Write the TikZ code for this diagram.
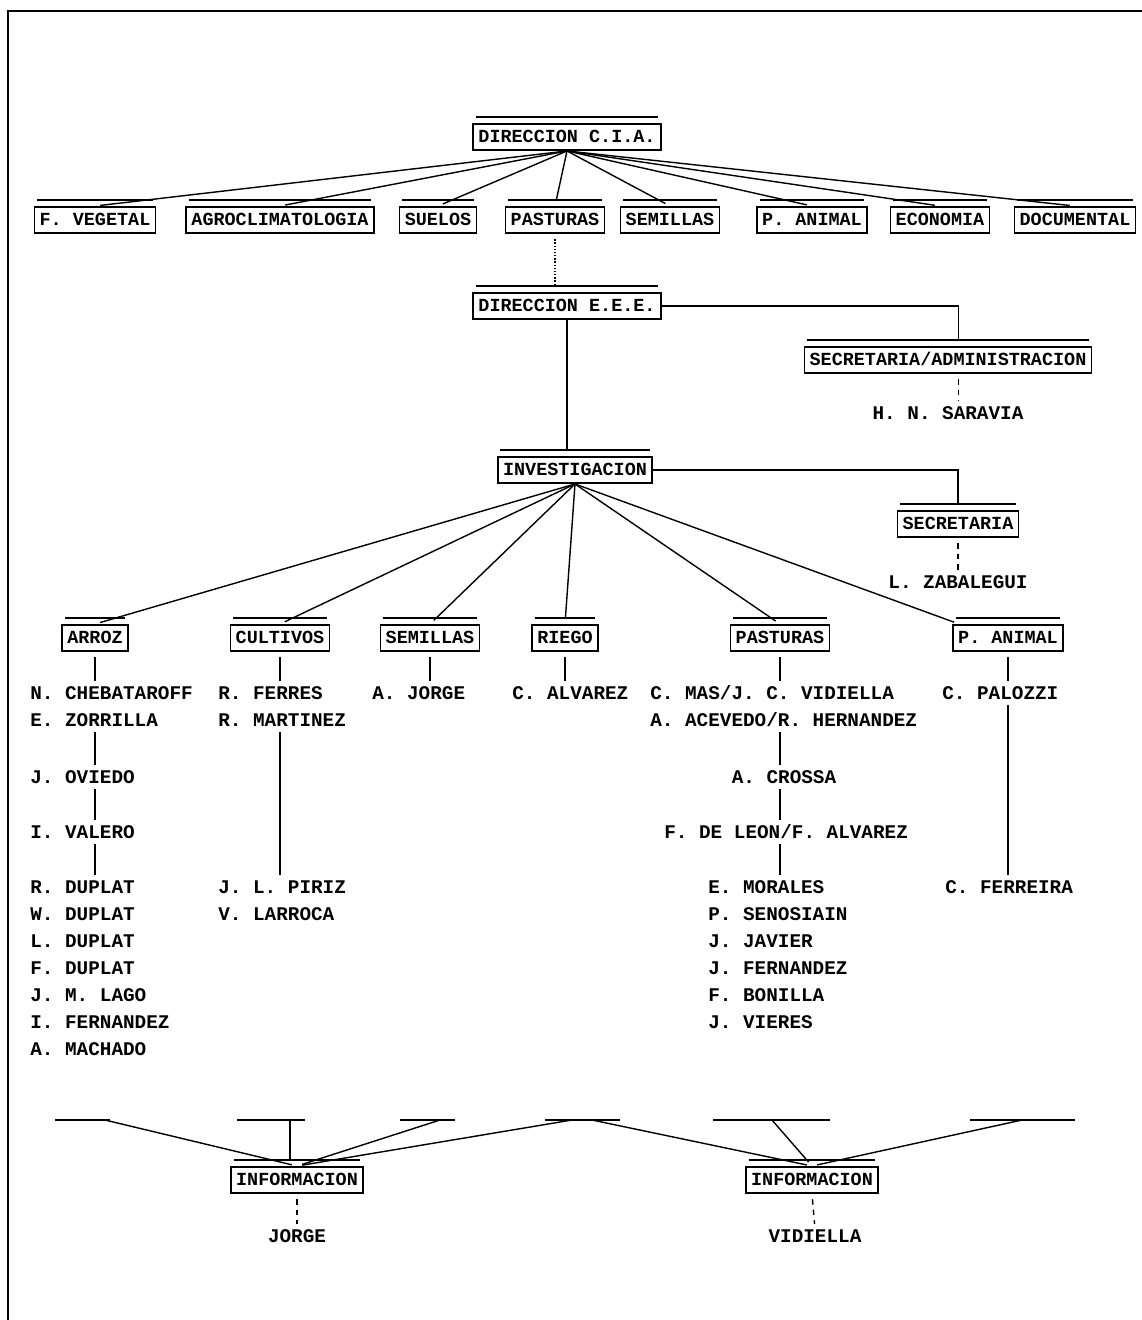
\documentclass[tikz,border=0pt]{standalone}
\usepackage{fontspec}
\setmonofont{Liberation Mono}

\begin{document}
\begin{tikzpicture}[x=0.02cm,y=-0.02cm,
    caja/.style={draw,line width=0.9pt,inner xsep=3pt,inner ysep=2.5pt,text height=8pt,text depth=2pt,
      font=\fontsize{10.5}{12}\selectfont\ttfamily\bfseries,
      append after command={([xshift=2pt,yshift=3.5pt]\tikzlastnode.north west) edge[line width=1.4pt] ([xshift=-2pt,yshift=3.5pt]\tikzlastnode.north east)}},
    nombre/.style={anchor=west,inner sep=0pt,text height=7.5pt,text depth=0pt,
      font=\fontsize{11}{13}\selectfont\ttfamily\bfseries},
    enlace/.style={line width=0.8pt},
    rama/.style={line width=0.8pt,shorten >=3pt},
    corto/.style={line width=0.8pt,shorten <=3pt,shorten >=3pt}]
    \useasboundingbox (0,0) rectangle (1142,1320);
    \draw[line width=1.2pt] (8,1320) -- (8,11) -- (1142,11);

    % direccion del centro
    \node[caja] (cia) at (567,137) {DIRECCION C.I.A.};
    \foreach \n/\x/\t in {fveg/95/F. VEGETAL,agro/280/AGROCLIMATOLOGIA,suel/438/SUELOS,past/555/PASTURAS,
        semi/670/SEMILLAS,pani/812/P. ANIMAL,econ/940/ECONOMIA,docu/1075/DOCUMENTAL}
      {\node[caja] (\n) at (\x,220) {\t};
       \draw[rama] (cia.south) -- (\n.north);}

    \node[caja] (dee) at (567,306) {DIRECCION E.E.E.};
    \draw[enlace,densely dotted,shorten <=3pt,shorten >=4pt] (past.south) -- (past.south |- dee.north);
    \node[caja] (sad) at (948,360) {SECRETARIA/ADMINISTRACION};
    \draw[rama] (dee.east) -| ([xshift=6pt]sad.north);
    \node[nombre,anchor=center] (sar) at (948,413) {H. N. SARAVIA};
    \draw[corto,dashed] ([xshift=6pt]sad.south) -- ([xshift=6pt]sar.north);

    \node[caja] (inv) at (575,470) {INVESTIGACION};
    \draw[rama] (dee.south) -- (dee.south |- inv.north);
    \node[caja] (sec) at (958,524) {SECRETARIA};
    \draw[rama] (inv.east) -| (sec.north);
    \node[nombre,anchor=center] (zab) at (958,582) {L. ZABALEGUI};
    \draw[corto,dashed] (sec.south) -- (zab.north);

    % secciones
    \foreach \n/\x/\t in {arroz/95/ARROZ,cult/280/CULTIVOS,semB/430/SEMILLAS,riego/565/RIEGO,pastB/780/PASTURAS}
      {\node[caja] (\n) at (\x,638) {\t};
       \draw[rama] (inv.south) -- (\n.north);}
    \node[caja] (paniB) at (1008,638) {P. ANIMAL};
    \draw[rama] (inv.south) -- ([xshift=4pt]paniB.north west);

    % arroz
    \node[nombre] (cheb) at (30,693) {N. CHEBATAROFF};
    \node[nombre] (zorr) at (30,720) {E. ZORRILLA};
    \node[nombre] (ovie) at (30,777) {J. OVIEDO};
    \node[nombre] (vale) at (30,832) {I. VALERO};
    \foreach \t [count=\i from 0] in {R. DUPLAT,W. DUPLAT,L. DUPLAT,F. DUPLAT,J. M. LAGO,I. FERNANDEZ,A. MACHADO}
      \node[nombre] (ar\i) at (30,{887+27*\i}) {\t};
    \draw[corto] (arroz.south) -- (arroz.south |- cheb.north);
    \draw[corto] (arroz.south |- zorr.south) -- (arroz.south |- ovie.north);
    \draw[corto] (arroz.south |- ovie.south) -- (arroz.south |- vale.north);
    \draw[corto] (arroz.south |- vale.south) -- (arroz.south |- ar0.north);

    % cultivos
    \node[nombre] (ferr) at (218,693) {R. FERRES};
    \node[nombre] (mart) at (218,720) {R. MARTINEZ};
    \node[nombre] (piri) at (218,887) {J. L. PIRIZ};
    \node[nombre] (larr) at (218,914) {V. LARROCA};
    \draw[corto] (cult.south) -- (cult.south |- ferr.north);
    \draw[corto] (cult.south |- mart.south) -- (cult.south |- piri.north);

    % semillas y riego
    \node[nombre] (jorA) at (372,693) {A. JORGE};
    \draw[corto] (semB.south) -- (semB.south |- jorA.north);
    \node[nombre] (alva) at (512,693) {C. ALVAREZ};
    \draw[corto] (riego.south) -- (riego.south |- alva.north);

    % pasturas
    \node[nombre] (mas) at (650,693) {C. MAS/J. C. VIDIELLA};
    \node[nombre] (acev) at (650,720) {A. ACEVEDO/R. HERNANDEZ};
    \node[nombre,anchor=center] (cros) at (784,777) {A. CROSSA};
    \node[nombre] (leon) at (664,832) {F. DE LEON/F. ALVAREZ};
    \foreach \t [count=\i from 0] in {E. MORALES,P. SENOSIAIN,J. JAVIER,J. FERNANDEZ,F. BONILLA,J. VIERES}
      \node[nombre] (pa\i) at (708,{887+27*\i}) {\t};
    \draw[corto] (pastB.south) -- (pastB.south |- mas.north);
    \draw[corto] (pastB.south |- acev.south) -- (pastB.south |- cros.north);
    \draw[corto] (pastB.south |- cros.south) -- (pastB.south |- leon.north);
    \draw[corto] (pastB.south |- leon.south) -- (pastB.south |- pa0.north);

    % produccion animal
    \node[nombre] (palo) at (942,693) {C. PALOZZI};
    \node[nombre] (ferA) at (945,887) {C. FERREIRA};
    \draw[corto] (paniB.south) -- (paniB.south |- palo.north);
    \draw[corto] (paniB.south |- palo.south) -- (paniB.south |- ferA.north);

    % informacion
    \foreach \a/\b in {55/110,237/305,400/455,545/620,713/830,970/1075}
      \draw[line width=1.4pt] (\a,1120) -- (\b,1120);
    \coordinate (b1) at (105,1120);
    \coordinate (b2) at (290,1120);
    \coordinate (b3) at (440,1120);
    \coordinate (b4) at (572,1120);
    \coordinate (b5) at (592,1120);
    \coordinate (b6) at (772,1120);
    \coordinate (b7) at (1022,1120);
    \node[caja] (inf1) at (297,1180) {INFORMACION};
    \node[caja] (inf2) at (812,1180) {INFORMACION};
    \foreach \c in {b1,b3,b4} \draw[rama] (\c) -- (inf1.north);
    \draw[rama] (b2) -- (b2 |- inf1.north);
    \foreach \c in {b5,b6,b7} \draw[rama] (\c) -- (inf2.north);
    \node[nombre,anchor=center] (jor) at (297,1236) {JORGE};
    \node[nombre,anchor=center] (vid) at (815,1236) {VIDIELLA};
    \draw[corto,dashed] (inf1.south) -- (jor.north);
    \draw[corto,dashed] (inf2.south) -- (vid.north);
\end{tikzpicture}
\end{document}
